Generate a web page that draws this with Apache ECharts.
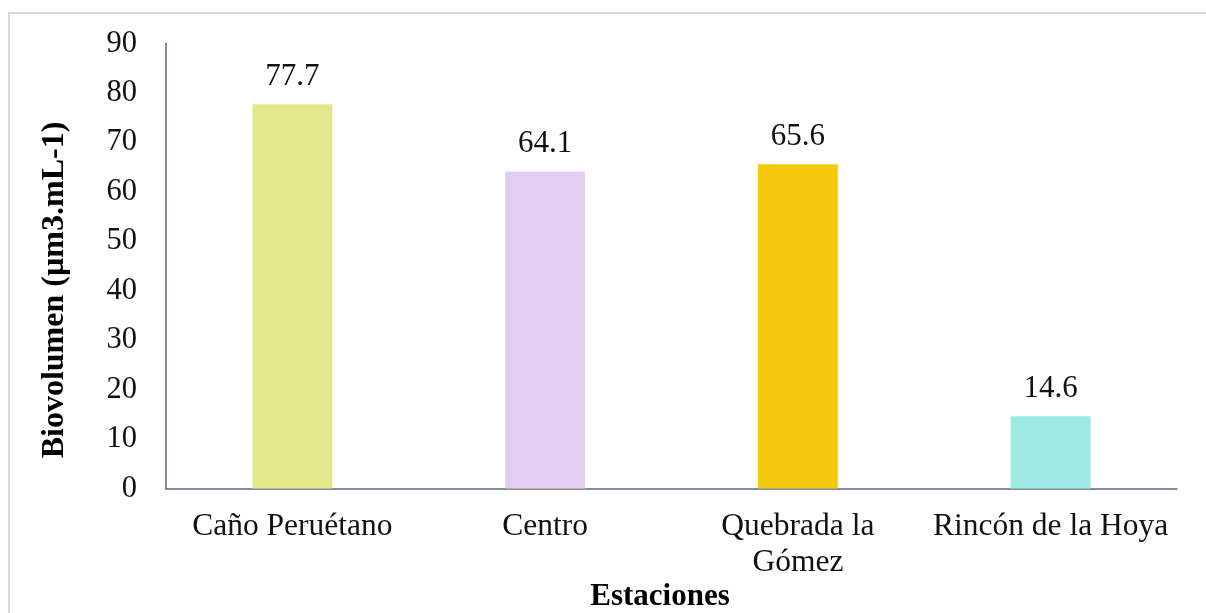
<!DOCTYPE html>
<html>
<head>
<meta charset="utf-8">
<script src="https://cdn.jsdelivr.net/npm/echarts@6/dist/echarts.min.js"></script>
<style>
  html, body { margin: 0; padding: 0; background: #ffffff; }
  #chart { width: 1206px; height: 613px; }
</style>
</head>
<body>
<div id="chart"></div>
<script>
// Stations sampled and their biovolume
const estaciones = ['Caño Peruétano', 'Centro', 'Quebrada la\nGómez', 'Rincón de la Hoya'];
const biovolumen = [77.7, 64.1, 65.6, 14.6];
const colores = ['#e3e98a', '#e3cef2', '#f6c90e', '#9ceae3'];
const yTicks = [0, 10, 20, 30, 40, 50, 60, 70, 80, 90];

const serif = '"Liberation Serif", "Times New Roman", serif';
const axisColor = '#5a6780';

const chart = echarts.init(document.getElementById('chart'), null, { renderer: 'canvas' });

chart.setOption({
  backgroundColor: '#ffffff',
  animation: false,
  grid: { left: 166, right: 29, top: 43.5, bottom: 124.5, containLabel: false },
  graphic: [
    {
      type: 'rect',
      shape: { x: 9, y: 13, width: 1400, height: 800 },
      style: { fill: 'none', stroke: '#d9d9d9', lineWidth: 2 },
      silent: true
    },
    {
      type: 'text',
      x: 55, y: 290,
      rotation: Math.PI / 2,
      style: {
        text: 'Biovolumen (µm3.mL-1)',
        font: 'bold 32px ' + serif,
        fill: '#000000',
        align: 'center',
        verticalAlign: 'middle'
      },
      silent: true
    },
    {
      type: 'text',
      x: 660, y: 597,
      style: {
        text: 'Estaciones',
        font: 'bold 31px ' + serif,
        fill: '#000000',
        align: 'center',
        verticalAlign: 'middle'
      },
      silent: true
    }
  ],
  xAxis: {
    type: 'category',
    data: estaciones,
    axisLine: { show: true, lineStyle: { color: axisColor, width: 1.5 } },
    axisTick: { show: false },
    axisLabel: {
      color: '#111111',
      fontFamily: serif,
      fontSize: 31.5,
      lineHeight: 36,
      margin: 20,
      interval: 0
    },
    splitLine: { show: false }
  },
  yAxis: {
    type: 'value',
    min: yTicks[0],
    max: yTicks[yTicks.length - 1],
    interval: yTicks[1] - yTicks[0],
    axisLine: { show: true, lineStyle: { color: axisColor, width: 1.5 } },
    axisTick: { show: false },
    axisLabel: {
      color: '#111111',
      fontFamily: serif,
      fontSize: 30.5,
      margin: 29
    },
    splitLine: { show: false }
  },
  series: [{
    type: 'bar',
    barWidth: '31.6%',
    data: biovolumen.map((v, i) => ({ value: v, itemStyle: { color: colores[i] } })),
    label: {
      show: true,
      position: 'top',
      distance: 12,
      color: '#111111',
      fontFamily: serif,
      fontSize: 31,
      formatter: p => p.value.toFixed(1)
    }
  }]
});
</script>
</body>
</html>
